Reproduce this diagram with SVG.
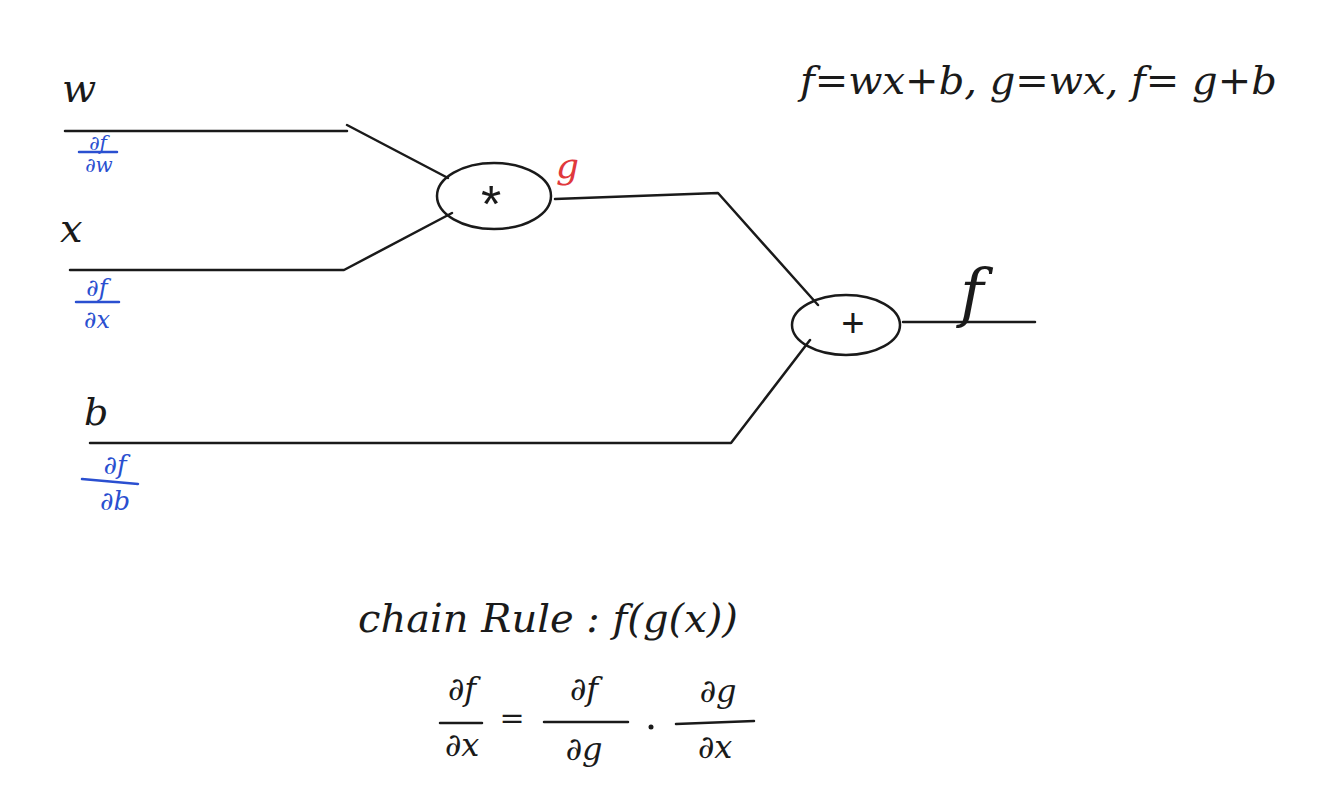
<svg xmlns="http://www.w3.org/2000/svg" width="1320" height="795" viewBox="0 0 1320 795">
<style>
.ln{stroke:#1a1a1a;stroke-width:2.5;fill:none;stroke-linecap:round;stroke-linejoin:round}
.nd{stroke:#1a1a1a;stroke-width:2.5;fill:none}
.t{font-family:"Liberation Sans","DejaVu Sans",sans-serif;fill:#1a1a1a}
.m{font-family:"DejaVu Serif","Liberation Serif",serif;font-style:italic;fill:#1a1a1a}
.b{font-family:"DejaVu Serif","Liberation Serif",serif;font-style:italic;fill:#2a4fd0}
.bl{stroke:#2a4fd0;stroke-width:2.5;fill:none;stroke-linecap:round}
.kl{stroke:#1a1a1a;stroke-width:2.5;fill:none;stroke-linecap:round}
</style>
<rect width="1320" height="795" fill="#ffffff"/>
<g id="connectors">
<polyline class="ln" points="65,131 347,131"/>
<polyline class="ln" points="347,125 448,178"/>
<polyline class="ln" points="70,270 344,270 452,213"/>
<polyline class="ln" points="555,199 718,193 818,305"/>
<polyline class="ln" points="90,443 731,443 810,340"/>
<polyline class="ln" points="903,322 1035,322"/>
</g>
<g id="node-mul">
<ellipse class="nd" cx="494" cy="196" rx="57" ry="33"/>
<text class="t" x="491" y="222" font-size="52" text-anchor="middle">*</text>
</g>
<g id="node-add">
<ellipse class="nd" cx="846" cy="325" rx="54" ry="30"/>
<text class="t" x="853" y="337" font-size="40" text-anchor="middle">+</text>
</g>
<g id="labels">
<text class="m" x="62" y="102" font-size="40">w</text>
<text class="m" x="60" y="242" font-size="40">x</text>
<text class="m" x="84" y="425" font-size="38">b</text>
<text class="m" x="960" y="315" font-size="64">f</text>
<text class="m" x="556" y="178" font-size="36" style="fill:#e0393c">g</text>
<text class="b" x="98" y="150" font-size="20" text-anchor="middle">∂f</text>
<line class="bl" x1="79" y1="152" x2="117" y2="152"/>
<text class="b" x="99" y="172" font-size="20" text-anchor="middle">∂w</text>
<text class="b" x="97" y="296" font-size="24" text-anchor="middle">∂f</text>
<line class="bl" x1="76" y1="302" x2="119" y2="302"/>
<text class="b" x="97" y="328" font-size="24" text-anchor="middle">∂x</text>
<text class="b" x="115" y="474" font-size="26" text-anchor="middle">∂f</text>
<line class="bl" x1="82" y1="479" x2="138" y2="484"/>
<text class="b" x="115" y="510" font-size="26" text-anchor="middle">∂b</text>
<text class="m" x="800" y="94" font-size="40">f=wx+b, g=wx, f= g+b</text>
<text class="m" x="358" y="632" font-size="40">chain Rule : f(g(x))</text>
<text class="m" x="462" y="700" font-size="32" text-anchor="middle">∂f</text>
<line class="kl" x1="440" y1="723" x2="482" y2="723"/>
<text class="m" x="462" y="756" font-size="32" text-anchor="middle">∂x</text>
<text class="m" x="512" y="728" font-size="30" text-anchor="middle">=</text>
<text class="m" x="584" y="700" font-size="32" text-anchor="middle">∂f</text>
<line class="kl" x1="544" y1="722" x2="628" y2="722"/>
<text class="m" x="584" y="760" font-size="32" text-anchor="middle">∂g</text>
<circle cx="651" cy="727" r="2.5" fill="#1a1a1a"/>
<text class="m" x="718" y="702" font-size="32" text-anchor="middle">∂g</text>
<line class="kl" x1="676" y1="724" x2="754" y2="721"/>
<text class="m" x="715" y="758" font-size="32" text-anchor="middle">∂x</text>
</g>
</svg>
